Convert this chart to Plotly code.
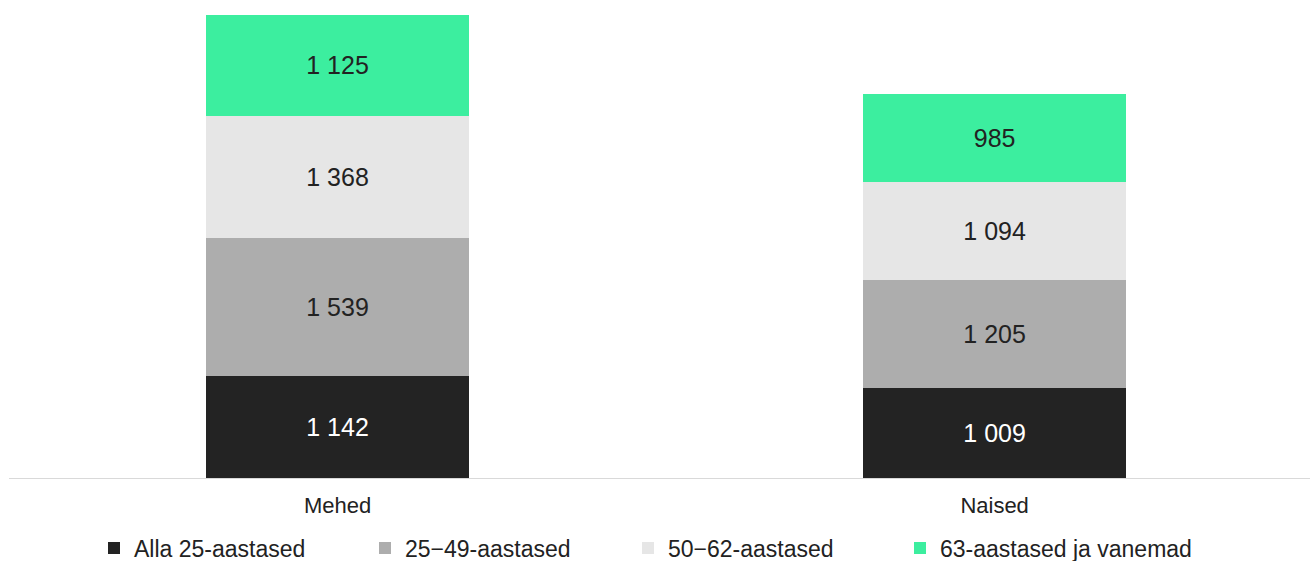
import plotly.graph_objects as go

categories = ["Mehed", "Naised"]
series_names = ["Alla 25-aastased", "25\u221249-aastased", "50\u221262-aastased", "63-aastased ja vanemad"]
alla25 = [1142, 1009]
v25_49 = [1539, 1205]
v50_62 = [1368, 1094]
v63 = [1125, 985]
series_values = [alla25, v25_49, v50_62, v63]
colors = ["#232323", "#adadad", "#e6e6e6", "#3cee9f"]
label_colors = ["#ffffff", "#222222", "#222222", "#222222"]
legend_ids = ["legend", "legend2", "legend3", "legend4"]
legend_left_px = [94, 365, 628, 900]

FONT = "Liberation Sans, Arial, sans-serif"

fig = go.Figure()
for name, vals, col, lc, lid in zip(series_names, series_values, colors, label_colors, legend_ids):
    fig.add_trace(go.Bar(
        x=categories, y=vals, name=name,
        marker=dict(color=col, line=dict(width=0)),
        width=0.4,
        texttemplate="%{y:,}",
        textposition="inside",
        insidetextanchor="middle",
        textfont=dict(family=FONT, size=25, color=lc),
        constraintext="none",
        hoverinfo="skip",
        legend=lid,
    ))

total_max = max(a + b + c + d for a, b, c, d in zip(*series_values))

legend_style = dict(
    orientation="h",
    xref="container", yref="container",
    xanchor="left",
    y=1 - 548 / 561, yanchor="middle",
    font=dict(family=FONT, size=23, color="#222222"),
    bgcolor="rgba(0,0,0,0)",
)
legends = {lid: dict(legend_style, x=px / 1310) for lid, px in zip(legend_ids, legend_left_px)}

fig.update_layout(
    barmode="stack",
    width=1310, height=561,
    margin=dict(l=9, r=0, t=15, b=83, autoexpand=False),
    paper_bgcolor="white", plot_bgcolor="white",
    separators=". ",
    font=dict(family=FONT, color="#222222"),
    showlegend=True,
    xaxis=dict(
        type="category",
        range=[-0.5, 1.48],
        showgrid=False,
        showline=True, linecolor="#d9d9d9", linewidth=1,
        ticks="",
        ticklabelstandoff=8,
        tickfont=dict(family=FONT, size=22, color="#222222"),
    ),
    yaxis=dict(
        range=[0, total_max],
        visible=False,
        showgrid=False,
    ),
    **legends,
)

fig.write_html(
    "out.html",
    config={"displayModeBar": False},
    post_script="document.body.style.margin='0';document.body.style.overflow='hidden';",
)
